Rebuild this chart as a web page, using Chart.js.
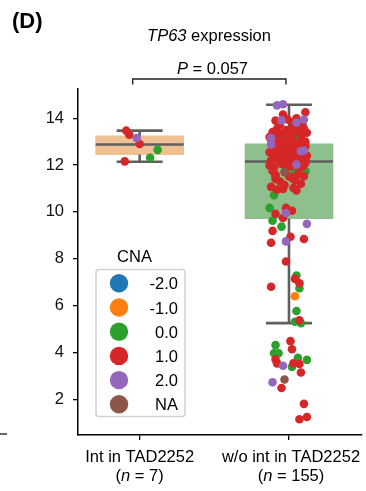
<!DOCTYPE html>
<html>
<head>
<meta charset="utf-8">
<script src="https://cdn.jsdelivr.net/npm/chart.js@4.4.1/dist/chart.umd.min.js"></script>
<style>
  html, body { margin: 0; padding: 0; background: #fff; }
  #wrap { width: 366px; height: 491px; }
</style>
</head>
<body>
<div id="wrap"><canvas id="tp63Chart"></canvas></div>
<script>
// categories and box statistics
const categories = ["Int in TAD2252", "w/o int in TAD2252"];
const groupN = [7, 155];
const boxQ1 = [12.45, 9.71];
const boxMedian = [12.88, 12.15];
const boxQ3 = [13.25, 12.91];
const whiskerLow = [12.14, 5.25];
const whiskerHigh = [13.47, 14.58];
const yTicks = [2, 4, 6, 8, 10, 12, 14];
const pValue = "0.057";

// CNA levels
const cnaLevels = ["-2.0", "-1.0", "0.0", "1.0", "2.0", "NA"];
const cnaColors = ["#1f77b4", "#ff7f0e", "#2ca02c", "#d62728", "#9467bd", "#8c564b"];

// points: [group, jitter, expression]
const ptsMinus2 = [];
const ptsMinus1 = [[1, 0.04, 6.40], [1, 0.06, 12.24]];
const pts0 = [
  [0, 0.12, 12.65], [0, 0.07, 12.31],
  [1, -0.09, 4.31], [1, -0.10, 3.96], [1, -0.07, 3.96], [1, 0.06, 3.77], [1, 0.12, 3.68], [1, 0.02, 3.38],
  [1, 0.05, 7.28], [1, 0.07, 6.74], [1, 0.05, 5.77], [1, 0.04, 5.31], [1, 0.08, 5.25],
  [1, -0.11, 9.62], [1, -0.05, 9.37],
  [1, -0.10, 10.71], [1, -0.13, 10.17], [1, 0.04, 11.73], [1, 0.11, 11.73], [1, -0.04, 12.13],
  [1, -0.08, 13.24], [1, 0.05, 13.30], [1, 0.05, 13.12], [1, -0.04, 13.09]
];
const pts1 = [
  [0, -0.09, 13.47], [0, -0.07, 13.30], [0, 0.00, 12.90], [0, -0.10, 12.16],
  [1, 0.01, 4.48], [1, 0.02, 4.13], [1, -0.09, 3.70], [1, -0.08, 3.53], [1, 0.03, 3.53], [1, 0.07, 3.50],
  [1, 0.08, 3.14], [1, -0.05, 2.48], [1, 0.10, 1.80], [1, 0.07, 1.14], [1, 0.12, 1.24],
  [1, -0.02, 7.88], [1, 0.04, 7.14], [1, 0.07, 6.95], [1, -0.12, 6.80], [1, 0.07, 5.37],
  [1, -0.11, 9.19], [1, 0.01, 8.94], [1, 0.10, 8.84], [1, -0.12, 8.68],
  [1, -0.13, 11.98], [1, -0.09, 11.52], [1, -0.09, 11.41], [1, -0.02, 11.84], [1, 0.00, 11.52],
  [1, 0.02, 11.45], [1, 0.10, 11.52], [1, -0.12, 11.07], [1, -0.08, 10.95], [1, -0.04, 10.98],
  [1, 0.03, 11.02], [1, 0.05, 10.92], [1, -0.09, 9.92], [1, -0.02, 10.17], [1, 0.02, 10.05],
  [1, -0.04, 9.74], [1, -0.09, 11.59], [1, 0.10, 12.00], [1, 0.11, 12.10], [1, -0.06, 11.30],
  [1, 0.04, 11.35], [1, -0.11, 11.75], [1, 0.07, 11.85], [1, -0.05, 12.05], [1, 0.01, 11.95],
  [1, 0.08, 11.20], [1, -0.03, 11.15], [1, 0.06, 11.60], [1, -0.10, 11.90], [1, 0.09, 11.95],
  [1, -0.12, 12.20], [1, -0.08, 12.30], [1, -0.04, 12.25], [1, 0.00, 12.35], [1, 0.03, 12.20],
  [1, 0.08, 12.30], [1, 0.11, 12.25], [1, -0.10, 12.45], [1, -0.06, 12.50], [1, -0.02, 12.40],
  [1, 0.02, 12.55], [1, 0.05, 12.45], [1, 0.09, 12.50], [1, 0.12, 12.40], [1, -0.11, 12.65],
  [1, -0.07, 12.70], [1, -0.03, 12.60], [1, 0.01, 12.75], [1, 0.04, 12.65], [1, 0.07, 12.70],
  [1, -0.09, 12.85], [1, -0.05, 12.80], [1, -0.01, 12.90], [1, 0.03, 12.85], [1, 0.06, 12.88],
  [1, 0.11, 12.80], [1, -0.13, 12.55], [1, 0.00, 12.18], [1, -0.06, 12.16], [1, 0.10, 12.60],
  [1, 0.05, 12.30], [1, -0.09, 12.35], [1, 0.08, 12.82], [1, -0.03, 12.50],
  [1, -0.04, 14.16], [1, 0.11, 14.26], [1, -0.06, 13.73], [1, 0.09, 13.73], [1, -0.11, 13.41],
  [1, 0.12, 13.38], [1, -0.12, 13.06], [1, -0.02, 13.50], [1, 0.02, 13.60], [1, 0.06, 13.55],
  [1, -0.08, 13.55], [1, 0.00, 13.30], [1, 0.04, 13.45], [1, -0.05, 13.35], [1, 0.08, 13.20],
  [1, -0.10, 13.25], [1, 0.11, 13.00], [1, -0.03, 13.00], [1, 0.02, 13.10], [1, 0.07, 13.40],
  [1, -0.07, 13.10], [1, 0.03, 13.85], [1, -0.01, 13.95], [1, 0.05, 14.00], [1, -0.09, 13.90],
  [1, 0.10, 13.55], [1, -0.13, 13.20], [1, 0.06, 12.95], [1, -0.06, 12.98], [1, 0.05, 13.65]
];
const pts2 = [
  [0, -0.02, 13.16],
  [1, -0.04, 3.43], [1, -0.11, 2.72], [1, 0.12, 9.49], [1, -0.02, 8.74], [1, -0.02, 9.95],
  [1, 0.05, 12.02], [1, -0.12, 12.88], [1, 0.10, 12.62], [1, 0.08, 12.59], [1, -0.08, 14.55],
  [1, -0.04, 14.60], [1, -0.05, 13.91], [1, 0.10, 13.95], [1, 0.05, 13.81], [1, -0.12, 13.15]
];
const ptsNA = [[1, -0.03, 2.84], [1, -0.03, 11.70]];
const cnaPoints = [ptsMinus2, ptsMinus1, pts0, pts1, pts2, ptsNA];

const boxColors = ["rgba(225,129,44,0.5)", "rgba(58,146,58,0.58)"];
const FONT = '"Liberation Sans", Arial, sans-serif';
Chart.defaults.font.family = FONT;

function drawRuns(ctx, runs, cx, baseline) {
  let w = 0;
  runs.forEach(r => { ctx.font = r.font; w += ctx.measureText(r.text).width; });
  let x = cx - w / 2;
  ctx.textAlign = "left";
  ctx.textBaseline = "alphabetic";
  runs.forEach(r => {
    ctx.font = r.font;
    ctx.fillText(r.text, x, baseline);
    x += ctx.measureText(r.text).width;
  });
}

const boxExtras = {
  id: "boxExtras",
  afterDatasetDraw(chart, args) {
    if (args.index !== 0) return;
    const xs = chart.scales.x, ys = chart.scales.y, ctx = chart.ctx;
    ctx.save();
    ctx.strokeStyle = "#5f5f5f";
    ctx.lineWidth = 2.6;
    categories.forEach((c, i) => {
      const cx = xs.getPixelForValue(i);
      const seg = (x1, y1, x2, y2) => { ctx.beginPath(); ctx.moveTo(x1, y1); ctx.lineTo(x2, y2); ctx.stroke(); };
      seg(cx, ys.getPixelForValue(boxQ3[i]), cx, ys.getPixelForValue(whiskerHigh[i]));
      seg(cx, ys.getPixelForValue(boxQ1[i]), cx, ys.getPixelForValue(whiskerLow[i]));
      seg(cx - 23, ys.getPixelForValue(whiskerHigh[i]), cx + 23, ys.getPixelForValue(whiskerHigh[i]));
      seg(cx - 23, ys.getPixelForValue(whiskerLow[i]), cx + 23, ys.getPixelForValue(whiskerLow[i]));
      seg(cx - 44, ys.getPixelForValue(boxMedian[i]), cx + 44, ys.getPixelForValue(boxMedian[i]));
    });
    ctx.restore();
  },
  afterDraw(chart) {
    const xs = chart.scales.x, ctx = chart.ctx;
    ctx.save();
    ctx.fillStyle = "#000";
    // panel letter
    ctx.font = "bold 22px " + FONT;
    ctx.textAlign = "left";
    ctx.fillText("(D)", 12, 28);
    // title and p-value
    drawRuns(ctx, [{ text: "TP63", font: "italic 16.5px " + FONT }, { text: " expression", font: "16.5px " + FONT }], 209, 41);
    drawRuns(ctx, [{ text: "P", font: "italic 16.5px " + FONT }, { text: " = " + pValue, font: "16.5px " + FONT }], 212.5, 74);
    // bracket
    const bx0 = xs.getPixelForValue(0) - 7, bx1 = xs.getPixelForValue(1) - 3;
    ctx.strokeStyle = "#222";
    ctx.lineWidth = 1.4;
    ctx.beginPath();
    ctx.moveTo(bx0, 84.5); ctx.lineTo(bx0, 79); ctx.lineTo(bx1, 79); ctx.lineTo(bx1, 84.5);
    ctx.stroke();
    // x labels
    categories.forEach((c, i) => {
      const cx = xs.getPixelForValue(i) + (i === 1 ? 2 : 0);
      drawRuns(ctx, [{ text: c, font: "16.5px " + FONT }], cx, 461.5);
      drawRuns(ctx, [
        { text: "(", font: "16.5px " + FONT },
        { text: "n", font: "italic 16.5px " + FONT },
        { text: " = " + groupN[i] + ")", font: "16.5px " + FONT }
      ], cx, 481);
    });
    // legend
    ctx.font = "16.5px " + FONT;
    ctx.textAlign = "center";
    ctx.fillText("CNA", 134.5, 261.5);
    ctx.fillStyle = "#fff";
    ctx.strokeStyle = "#d2d2d2";
    ctx.lineWidth = 1.6;
    ctx.beginPath();
    ctx.roundRect(96, 269.5, 89, 147, 3);
    ctx.fill();
    ctx.stroke();
    cnaLevels.forEach((lv, k) => {
      const cy = 283.3 + k * 24.2;
      ctx.fillStyle = cnaColors[k];
      ctx.beginPath();
      ctx.arc(119, cy, 9.2, 0, Math.PI * 2);
      ctx.fill();
      ctx.fillStyle = "#000";
      ctx.textAlign = "right";
      ctx.fillText(lv, 178, cy + 6);
    });
    // stray tick from neighbouring panel
    ctx.strokeStyle = "#000";
    ctx.lineWidth = 1.2;
    ctx.beginPath();
    ctx.moveTo(0, 434); ctx.lineTo(7, 434);
    ctx.stroke();
    ctx.restore();
  }
};

const datasets = [
  {
    type: "bar",
    data: categories.map((c, i) => ({ x: i, y: [boxQ1[i], boxQ3[i]] })),
    backgroundColor: boxColors,
    borderWidth: 0,
    barThickness: 88,
    order: 10
  }
];
cnaLevels.forEach((lv, k) => {
  datasets.push({
    type: "scatter",
    label: lv,
    data: cnaPoints[k].map(p => ({ x: p[0] + p[1], y: p[2] })),
    backgroundColor: cnaColors[k],
    pointRadius: 4.3,
    pointBorderWidth: 0,
    order: 6 - k
  });
});

new Chart(document.getElementById("tp63Chart"), {
  type: "scatter",
  data: { datasets },
  options: {
    responsive: true,
    maintainAspectRatio: false,
    animation: false,
    events: [],
    layout: { padding: { top: 89, right: 3, left: 0, bottom: 0 } },
    plugins: { legend: { display: false }, tooltip: { enabled: false } },
    scales: {
      x: {
        type: "linear",
        offset: false,
        min: -0.413,
        max: 1.487,
        afterBuildTicks: s => { s.ticks = categories.map((c, i) => ({ value: i })); },
        afterFit: s => { s.height = 56; },
        grid: { display: true, offset: false, drawOnChartArea: false, drawTicks: true, tickLength: 5, color: "#000", lineWidth: 1.3 },
        border: { display: true, color: "#000", width: 1.5 },
        ticks: { display: false }
      },
      y: {
        type: "linear",
        min: 0.47,
        max: 15.25,
        afterBuildTicks: s => { s.ticks = yTicks.map(v => ({ value: v })); },
        afterFit: s => { s.width = 78; },
        grid: { display: true, drawOnChartArea: false, drawTicks: true, tickLength: 5, color: "#000", lineWidth: 1.3 },
        border: { display: true, color: "#000", width: 1.5 },
        ticks: { color: "#111", padding: 9, font: { size: 16.5 } }
      }
    }
  },
  plugins: [boxExtras]
});
</script>
</body>
</html>
